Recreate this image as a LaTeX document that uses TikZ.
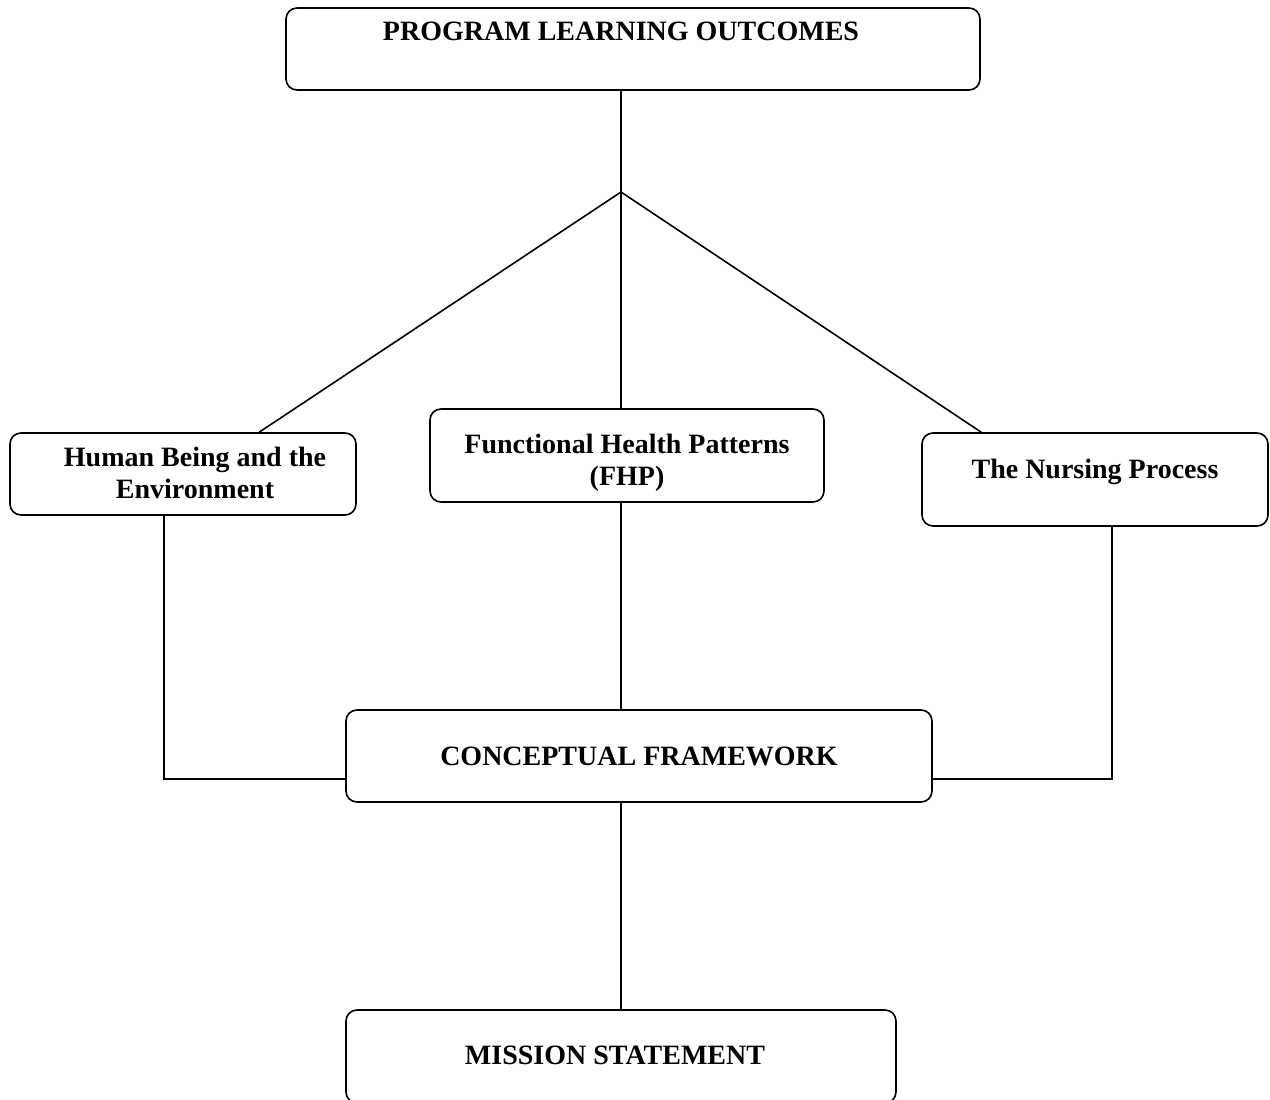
\documentclass[tikz,border=0pt]{standalone}
\usepackage{fontspec}
\setmainfont{Liberation Serif}
\usetikzlibrary{calc}

\begin{document}
\begin{tikzpicture}[x=1pt, y=-1pt, line width=1.6pt,
    box/.style={draw, rounded corners=11pt, inner sep=0pt},
    caption/.style={inner sep=0pt, align=center,
      font=\fontsize{28}{32}\selectfont\bfseries}]
      \useasboundingbox (0,0) rectangle (1270,1100);

      % Boxes
      \node[box, minimum width=694, minimum height=82] (plo) at (633,49) {};
      \node[box, minimum width=346, minimum height=82] (human) at (183,474) {};
      \node[box, minimum width=394, minimum height=93] (fhp) at (627,455.5) {};
      \node[box, minimum width=346, minimum height=93] (nursing) at (1095,479.5) {};
      \node[box, minimum width=586, minimum height=92] (cf) at (639,756) {};
      \node[box, minimum width=550, minimum height=93] (mission) at (621,1056.5) {};

      % Box texts
      \node[caption] (plotext) at (621,31) {PROGRAM LEARNING OUTCOMES};
      \node[caption] (humantext) at (195,473) {Human Being and the\\Environment};
      \node[caption] (fhptext) at (627,463) {Functional Health Patterns\\(FHP)};
      \node[caption] (nursingtext) at (1095,471.5) {The Nursing Process};
      \node[caption] (cftext) at (639,756) {CONCEPTUAL FRAMEWORK};
      \node[caption] (missiontext) at (615,1055) {MISSION STATEMENT};

      % Branch point
      \coordinate (hub) at (621,192);

      % Connectors
      \draw (plo.south -| hub) -- (hub);
      \draw (hub) -- ($(human.north west)+(250,0)$);
      \draw (hub) -- (fhp.north -| hub);
      \draw (hub) -- ($(nursing.north west)+(60,0)$);
      \draw ($(human.south west)+(155,0)$) |- ($(cf.west)+(0,23)$);
      \draw (fhp.south -| hub) -- (cf.north -| hub);
      \draw ($(nursing.south west)+(191,0)$) |- ($(cf.east)+(0,23)$);
      \draw (cf.south -| hub) -- (mission.north -| hub);
    \end{tikzpicture}
\end{document}
